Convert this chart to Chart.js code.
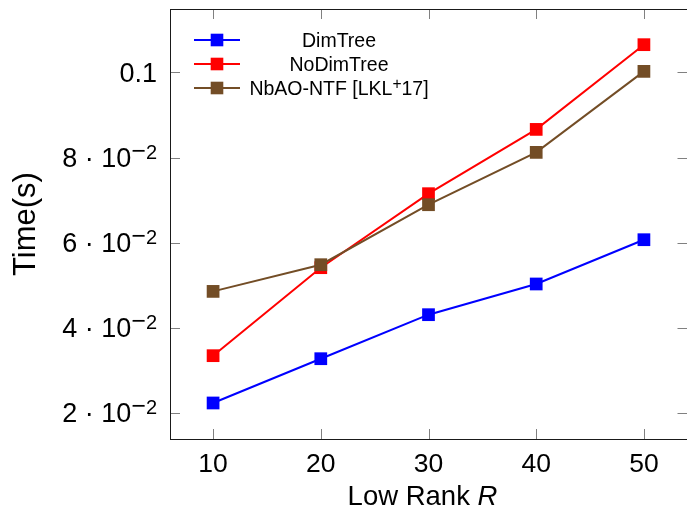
<!DOCTYPE html>
<html><head><meta charset="utf-8">
<script src="https://cdn.jsdelivr.net/npm/chart.js@4.4.0/dist/chart.umd.min.js"></script>
<style>html,body{margin:0;padding:0;background:#fff;}canvas{display:block;}</style>
</head><body>
<canvas id="c" width="687" height="514"></canvas>
<script>
// ---- data ----
const ranks = [10, 20, 30, 40, 50];
const dimTree = [0.02235, 0.03275, 0.04309, 0.05030, 0.06070];
const noDimTree = [0.03346, 0.05413, 0.07151, 0.08661, 0.10651];
const nbao = [0.04856, 0.05483, 0.06892, 0.08121, 0.10024];
const seriesNames = ['DimTree', 'NoDimTree', 'NbAO-NTF [LKL^+^17]'];
const xTicks = [10, 20, 30, 40, 50];
const yTicks = [0.02, 0.04, 0.06, 0.08, 0.1];
const yTickLabels = ['2 · 10^−2', '4 · 10^−2', '6 · 10^−2', '8 · 10^−2', '0.1'];
const xTitle = ['Low Rank ', 'R'];
const yTitle = 'Time(s)';

const FONT = '"Liberation Sans", Arial, Helvetica, sans-serif';
const colors = ['#0000ff', '#ff0000', '#734d26'];
const seriesData = [dimTree, noDimTree, nbao];
const TICK_FS = 27, SUP_FS = 20, TITLE_FS = 27.5, YTITLE_FS = 31, LEG_FS = 19.5;

const datasets = seriesData.map((vals, i) => ({
  label: seriesNames[i],
  data: ranks.map((r, j) => ({x: r, y: vals[j]})),
  borderColor: colors[i], backgroundColor: colors[i],
  borderWidth: 2, pointStyle: 'rect', pointRadius: 9, pointHoverRadius: 9,
  pointBorderWidth: 0, tension: 0, fill: false, order: 3 - i
}));

// text with superscripts: "normal^sup^normal"; a leading minus in a superscript is drawn wider
function drawSup(ctx, str, x, baseline, fs, supFs, align, wideMinus) {
  const raw = str.split('^');
  const pieces = [];
  raw.forEach((p, k) => {
    if (k % 2 && wideMinus && p[0] === '−') {
      pieces.push({t: '−', size: fs * 0.92, sup: true});
      pieces.push({t: p.slice(1), size: supFs, sup: true});
    } else pieces.push({t: p, size: k % 2 ? supFs : fs, sup: !!(k % 2)});
  });
  pieces.forEach(pc => { ctx.font = pc.size + 'px ' + FONT; pc.w = ctx.measureText(pc.t).width; });
  const total = pieces.reduce((a, b) => a + b.w, 0);
  let cx = align === 'right' ? x - total : (align === 'center' ? x - total / 2 : x);
  ctx.textAlign = 'left'; ctx.textBaseline = 'alphabetic';
  pieces.forEach(pc => {
    ctx.font = pc.size + 'px ' + FONT;
    ctx.fillText(pc.t, cx, pc.sup ? baseline - fs * 0.3 : baseline);
    cx += pc.w;
  });
}

const framePlugin = {
  id: 'frame',
  beforeDatasetsDraw(chart) {
    const {ctx, chartArea: a, scales: {x, y}} = chart;
    ctx.save();
    ctx.strokeStyle = '#808080'; ctx.lineWidth = 1;
    const L = 10;
    ctx.beginPath();
    x.ticks.forEach(t => {
      const px = Math.round(x.getPixelForValue(t.value)) + 0.5;
      ctx.moveTo(px, a.bottom); ctx.lineTo(px, a.bottom - L);
      ctx.moveTo(px, a.top); ctx.lineTo(px, a.top + L);
    });
    y.ticks.forEach(t => {
      const py = Math.round(y.getPixelForValue(t.value)) + 0.5;
      ctx.moveTo(a.left, py); ctx.lineTo(a.left + L, py);
      ctx.moveTo(a.right + 0.5, py); ctx.lineTo(a.right + 0.5 - L, py);
    });
    ctx.stroke();
    ctx.strokeStyle = '#1a1a1a'; ctx.lineWidth = 1;
    ctx.strokeRect(a.left + 0.5, a.top + 0.5, a.right - a.left, a.bottom - a.top);
    ctx.restore();
  },
  afterDraw(chart) {
    const {ctx, chartArea: a, scales: {x, y}} = chart;
    ctx.save();
    ctx.fillStyle = '#000';
    y.ticks.forEach((t, i) => {
      const py = y.getPixelForValue(t.value);
      drawSup(ctx, yTickLabels[i], a.left - 13, py + TICK_FS * 0.35, TICK_FS, SUP_FS, 'right', true);
    });
    ctx.font = TITLE_FS + 'px ' + FONT;
    const w1 = ctx.measureText(xTitle[0]).width;
    ctx.font = 'italic ' + TITLE_FS + 'px ' + FONT;
    const w2 = ctx.measureText(xTitle[1]).width;
    let sx = (a.left + a.right) / 2 - (w1 + w2) / 2 - 6;
    ctx.textAlign = 'left'; ctx.textBaseline = 'alphabetic';
    ctx.font = TITLE_FS + 'px ' + FONT;
    ctx.fillText(xTitle[0], sx, 505);
    ctx.font = 'italic ' + TITLE_FS + 'px ' + FONT;
    ctx.fillText(xTitle[1], sx + w1, 505);
    chart.data.datasets.forEach((ds, i) => {
      const cy = 40 + i * 24;
      const x0 = a.left + 24, x1 = a.left + 70, mx = (x0 + x1) / 2;
      ctx.strokeStyle = ds.borderColor; ctx.lineWidth = ds.borderWidth;
      ctx.beginPath(); ctx.moveTo(x0, cy); ctx.lineTo(x1, cy); ctx.stroke();
      ctx.fillStyle = ds.backgroundColor;
      const s = 12.6;
      ctx.fillRect(mx - s / 2, cy - s / 2, s, s);
      ctx.fillStyle = '#000';
      drawSup(ctx, ds.label, a.left + 169, cy + LEG_FS * 0.36, LEG_FS, LEG_FS * 0.8, 'center', false);
    });
    ctx.restore();
  }
};

const noPad = s => { s.getPadding = () => ({left: 0, right: 0, top: 0, bottom: 0}); };

new Chart(document.getElementById('c'), {
  type: 'line',
  data: {datasets},
  options: {
    responsive: false, animation: false, devicePixelRatio: 1,
    layout: {padding: {top: 9, right: 0, left: 0, bottom: 0}, autoPadding: false},
    plugins: {legend: {display: false}, tooltip: {enabled: false}},
    scales: {
      x: {
        type: 'linear', min: 6, max: 54,
        afterBuildTicks: s => { s.ticks = xTicks.map(v => ({value: v})); },
        afterFit: s => { s.height = 75; s.paddingRight = 0; s.paddingLeft = 0; noPad(s); },
        grid: {display: false, drawTicks: false}, border: {display: false},
        ticks: {font: {family: FONT, size: 26.5}, color: '#000', padding: 10, maxRotation: 0,
                callback: v => String(v)}
      },
      y: {
        type: 'linear', min: 0.01389, max: 0.11489,
        afterBuildTicks: s => { s.ticks = yTicks.map(v => ({value: v})); },
        afterFit: s => { s.width = 170; s.paddingTop = 0; s.paddingBottom = 0; noPad(s); },
        grid: {display: false, drawTicks: false}, border: {display: false},
        ticks: {display: false},
        title: {display: true, text: yTitle, color: '#000', font: {family: FONT, size: YTITLE_FS},
                padding: {top: 8, bottom: 0}}
      }
    }
  },
  plugins: [framePlugin]
});
</script>
</body></html>
